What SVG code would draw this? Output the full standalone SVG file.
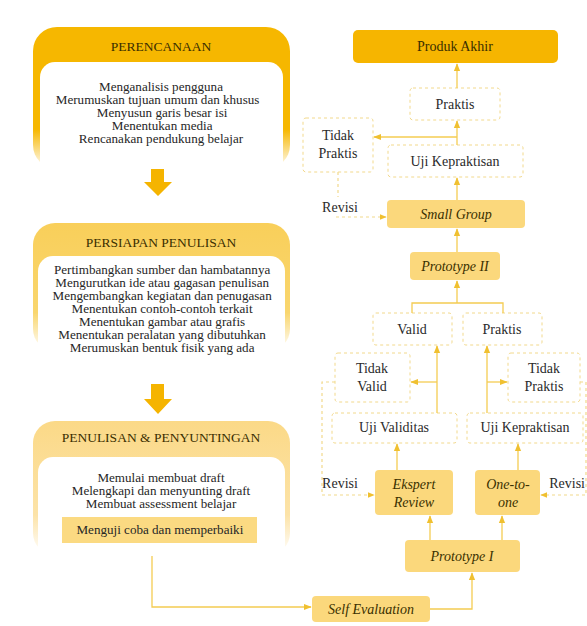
<svg xmlns="http://www.w3.org/2000/svg" width="587" height="626" viewBox="0 0 587 626">
<defs>
<style>
.bg{fill:#ffffff}
text{font-family:"Liberation Serif","Times New Roman","DejaVu Serif","Noto Serif",serif}
.lt{font-size:11.6px;fill:#262626;text-anchor:middle}
.hd{font-size:13.5px;fill:#3a2e00;text-anchor:middle}
.rt{font-size:14px;fill:#2a2a2a;text-anchor:middle}
.it{font-size:14px;font-style:italic;fill:#3a3000;text-anchor:middle}
.dash{fill:#ffffff;stroke:#F2D98C;stroke-width:1;stroke-dasharray:3 3}
.solid{fill:#FBD87C}
.ln{fill:none;stroke:#F4CC52;stroke-width:1.3}
.dl{fill:none;stroke:#F2D98C;stroke-width:1.2;stroke-dasharray:3 3}
.big{fill:#F5B400}
</style>
<linearGradient id="g1" x1="0" y1="0" x2="0" y2="1">
<stop offset="0" stop-color="#F6B700"/>
<stop offset="0.72" stop-color="#F6B700"/>
<stop offset="1" stop-color="#FFFFFF"/>
</linearGradient>
<linearGradient id="g2" x1="0" y1="0" x2="0" y2="1">
<stop offset="0" stop-color="#F9CF5A"/>
<stop offset="0.7" stop-color="#F9D66E"/>
<stop offset="1" stop-color="#FFFFFF"/>
</linearGradient>
<linearGradient id="g3" x1="0" y1="0" x2="0" y2="1">
<stop offset="0" stop-color="#FBD987"/>
<stop offset="0.7" stop-color="#FCE3A8"/>
<stop offset="1" stop-color="#FFFFFF"/>
</linearGradient>
<marker id="ah" viewBox="0 0 10 10" refX="9" refY="5" markerWidth="6" markerHeight="6" orient="auto">
<path d="M0,1 L10,5 L0,9 z" fill="#F0C030"/>
</marker>
</defs>
<rect class="bg" x="0" y="0" width="587" height="626"/>

<!-- Left column -->
<g id="perencanaan">
<rect x="33" y="27" width="257" height="142" rx="24" fill="url(#g1)"/>
<rect x="40" y="62" width="243" height="118" rx="15" fill="#ffffff"/>
<text class="hd" x="161" y="51">PERENCANAAN</text>
<g transform="matrix(1.13,0,0,1,-20.93,0)">
<text class="lt" x="161" y="91">Menganalisis pengguna</text>
<text class="lt" x="158" y="104">Merumuskan tujuan umum dan khusus</text>
<text class="lt" x="162" y="117">Menyusun garis besar isi</text>
<text class="lt" x="162" y="130">Menentukan media</text>
<text class="lt" x="161" y="143">Rencanakan pendukung belajar</text>
</g>
</g>
<g id="arrow1">
<path class="big" d="M151,169 H164 V182 H172 L158,196 L144,182 H151 Z"/>
</g>

<g id="persiapan">
<rect x="33" y="223" width="257" height="128" rx="22" fill="url(#g2)"/>
<rect x="38" y="256" width="247" height="105" rx="15" fill="#ffffff"/>
<text class="hd" x="161" y="247">PERSIAPAN PENULISAN</text>
<g transform="matrix(1.13,0,0,1,-20.93,0)">
<text class="lt" x="162" y="274">Pertimbangkan sumber dan hambatannya</text>
<text class="lt" x="162" y="287">Mengurutkan ide atau gagasan penulisan</text>
<text class="lt" x="162" y="300">Mengembangkan kegiatan dan penugasan</text>
<text class="lt" x="162" y="313">Menentukan contoh-contoh terkait</text>
<text class="lt" x="162" y="326">Menentukan gambar atau grafis</text>
<text class="lt" x="162" y="339">Menentukan peralatan yang dibutuhkan</text>
<text class="lt" x="162" y="352">Merumuskan bentuk fisik yang ada</text>
</g>
</g>
<g id="arrow2">
<path class="big" d="M151,384 H164 V399 H172 L158,414 L144,399 H151 Z"/>
</g>

<g id="penulisan">
<rect x="33" y="421" width="257" height="134" rx="22" fill="url(#g3)"/>
<rect x="38" y="457" width="247" height="105" rx="15" fill="#ffffff"/>
<text class="hd" x="161" y="442">PENULISAN &amp; PENYUNTINGAN</text>
<rect x="62" y="517" width="195" height="26" fill="#FBDA82"/>
<g transform="matrix(1.13,0,0,1,-20.93,0)">
<text class="lt" x="161" y="482">Memulai membuat draft</text>
<text class="lt" x="161" y="495">Melengkapi dan menyunting draft</text>
<text class="lt" x="161" y="508">Membuat assessment belajar</text>
<text class="lt" x="160" y="534">Menguji coba dan memperbaiki</text>
</g>
</g>

<!-- Right column nodes -->
<g id="produk-akhir">
<rect x="353" y="30" width="205" height="33" rx="5" fill="#F6B500"/>
<text class="rt" x="455" y="51" style="fill:#3a2e00">Produk Akhir</text>
</g>
<g id="praktis-top">
<rect class="dash" x="410" y="88" width="90" height="32" rx="3"/>
<text class="rt" x="455" y="109">Praktis</text>
</g>
<g id="tidak-praktis-top">
<rect class="dash" x="303" y="118" width="70" height="54" rx="3"/>
<text class="rt" x="338" y="140">Tidak</text>
<text class="rt" x="338" y="158">Praktis</text>
</g>
<g id="uji-kepraktisan-top">
<rect class="dash" x="388" y="145" width="135" height="32" rx="3"/>
<text class="rt" x="455" y="166">Uji Kepraktisan</text>
</g>
<g id="revisi-top">
<text class="rt" x="340" y="212">Revisi</text>
</g>
<g id="small-group">
<rect class="solid" x="387" y="200" width="138" height="28" rx="4"/>
<text class="it" x="456" y="219">Small Group</text>
</g>
<g id="prototype-2">
<rect class="solid" x="410" y="252" width="90" height="28" rx="4"/>
<text class="it" x="455" y="271">Prototype II</text>
</g>
<g id="valid">
<rect class="dash" x="373" y="313" width="79" height="32" rx="3"/>
<text class="rt" x="412" y="334">Valid</text>
</g>
<g id="praktis-mid">
<rect class="dash" x="463" y="313" width="79" height="32" rx="3"/>
<text class="rt" x="502" y="334">Praktis</text>
</g>
<g id="tidak-valid">
<rect class="dash" x="335" y="353" width="75" height="49" rx="3"/>
<text class="rt" x="372" y="373">Tidak</text>
<text class="rt" x="372" y="391">Valid</text>
</g>
<g id="tidak-praktis-mid">
<rect class="dash" x="508" y="353" width="72" height="49" rx="3"/>
<text class="rt" x="544" y="373">Tidak</text>
<text class="rt" x="544" y="391">Praktis</text>
</g>
<g id="uji-validitas">
<rect class="dash" x="332" y="413" width="125" height="30" rx="3"/>
<text class="rt" x="394" y="432">Uji Validitas</text>
</g>
<g id="uji-kepraktisan-mid">
<rect class="dash" x="467" y="413" width="116" height="30" rx="3"/>
<text class="rt" x="525" y="432">Uji Kepraktisan</text>
</g>
<g id="revisi-left">
<text class="rt" x="340" y="488">Revisi</text>
</g>
<g id="revisi-right">
<text class="rt" x="585" y="488" style="text-anchor:end">Revisi</text>
</g>
<g id="ekspert-review">
<rect class="solid" x="375" y="470" width="78" height="45" rx="4"/>
<text class="it" x="414" y="489">Ekspert</text>
<text class="it" x="414" y="507">Review</text>
</g>
<g id="one-to-one">
<rect class="solid" x="475" y="470" width="65" height="45" rx="4"/>
<text class="it" x="508" y="489">One-to-</text>
<text class="it" x="508" y="507">one</text>
</g>
<g id="prototype-1">
<rect class="solid" x="405" y="540" width="115" height="32" rx="4"/>
<text class="it" x="462" y="561">Prototype I</text>
</g>
<g id="self-evaluation">
<rect class="solid" x="312" y="596" width="118" height="26" rx="4"/>
<text class="it" x="371" y="614">Self Evaluation</text>
</g>

<!-- Connectors -->
<g id="connectors">
<path class="ln" d="M457,88 V64" marker-end="url(#ah)"/>
<path class="ln" d="M457,145 V121" marker-end="url(#ah)"/>
<path class="ln" d="M457,137 H374" marker-end="url(#ah)"/>
<path class="ln" d="M457,200 V178" marker-end="url(#ah)"/>
<path class="dl" d="M338,172 V197"/>
<path class="dl" d="M336,217 H386" marker-end="url(#ah)"/>
<path class="ln" d="M457,252 V229" marker-end="url(#ah)"/>
<path class="ln" d="M457,303 V281" marker-end="url(#ah)"/>
<path class="ln" d="M412,313 V303 H503 V313"/>
<path class="ln" d="M437,413 V346" marker-end="url(#ah)"/>
<path class="ln" d="M437,382 H411" marker-end="url(#ah)"/>
<path class="ln" d="M487,413 V346" marker-end="url(#ah)"/>
<path class="ln" d="M487,382 H507" marker-end="url(#ah)"/>
<path class="dl" d="M335,382 H322 V495 H374" marker-end="url(#ah)"/>
<path class="dl" d="M580,382 H586 V495 H541" marker-end="url(#ah)"/>
<path class="ln" d="M397,470 V444" marker-end="url(#ah)"/>
<path class="ln" d="M518,470 V444" marker-end="url(#ah)"/>
<path class="ln" d="M430,540 V516" marker-end="url(#ah)"/>
<path class="ln" d="M502,540 V516" marker-end="url(#ah)"/>
<path class="ln" d="M430,609 H472 V573" marker-end="url(#ah)"/>
<path class="ln" d="M152,556 V607 H311" marker-end="url(#ah)"/>
</g>
</svg>
